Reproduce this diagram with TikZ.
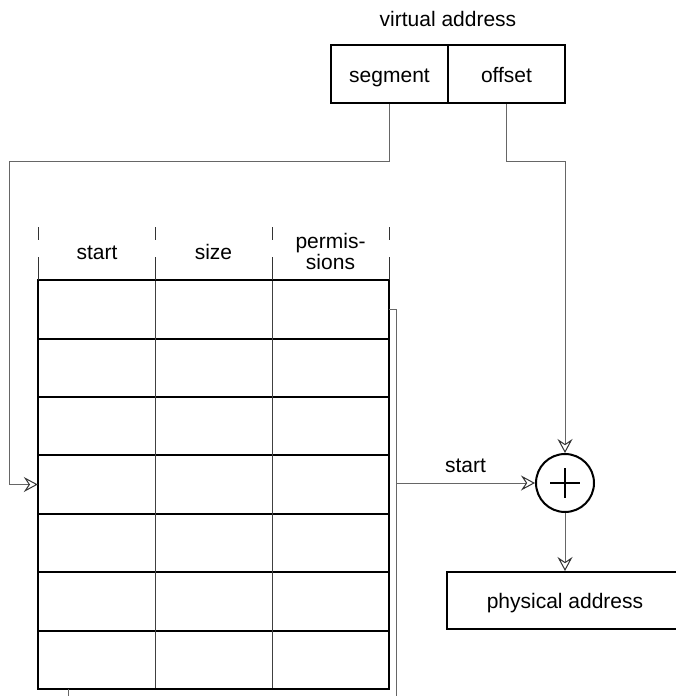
\documentclass[tikz,border=0pt]{standalone}
\usepackage{fontspec}
\setmainfont{Liberation Sans}
\usetikzlibrary{arrows.meta,calc}
\begin{document}
\begin{tikzpicture}[x=1pt,y=-1pt,
  font=\fontsize{21}{24}\selectfont,
  txt/.style={text height=17pt,text depth=1pt,inner sep=0pt},
  box/.style={draw=black,line width=2pt,minimum width=117pt,minimum height=58pt,txt},
  cell/.style={minimum width=117pt,minimum height=58.43pt,inner sep=0pt},
  conn/.style={draw=black!60,line width=1pt},
  arr/.style={conn,-{Stealth[open,length=14pt,width=15pt,inset=5pt,line width=1pt,black!80]}},
  rowline/.style={line width=2pt,black},
  colline/.style={line width=1.3pt,black!75},
  tick/.style={line width=1pt,black!80}]
\useasboundingbox (0,0) rectangle (675,696);
% virtual address
\node[txt] (va) at (448,18) {virtual address};
\node[box] (seg) at (389.5,74) {segment};
\node[box] (off) at (506.5,74) {offset};
% table
\foreach \r in {1,...,7}{
  \foreach \c in {1,2,3}{
    \node[cell] (r\r c\c) at ({38+117*(\c-0.5)},{280+58.43*(\r-0.5)}) {};
  }
}
\foreach \r in {1,...,6}{
  \draw[rowline] (r\r c1.south west) -- (r\r c3.south east);
}
\draw[colline] (r1c1.north east) -- (r7c1.south east);
\draw[colline] (r1c2.north east) -- (r7c2.south east);
\draw[rowline] (r1c1.north west) rectangle (r7c3.south east);
% header
\node[txt] (hstart) at (97,251) {start};
\node[txt] (hsize) at (213.5,251) {size};
\node[align=center,font=\fontsize{21}{21}\selectfont,inner sep=0pt] (hperm) at (330.5,251) {permis-\\sions};
\foreach \x in {38,155,272,389}{
  \draw[tick] (\x,227) -- (\x,240);
  \draw[tick] (\x,257) -- (\x,280);
}
% right bracket line and bottom tick
\coordinate (bt) at (396,309);
\coordinate (bb) at (396,700);
\draw[conn] (r1c3.north east |- bt) -- (bt) -- (bb);
\coordinate (lt1) at (68,689);
\coordinate (lt2) at (68,700);
\draw[conn] (lt1) -- (lt2);
% adder
\node[draw=black,line width=2pt,circle,minimum size=58pt,inner sep=0pt] (plus) at (565,483) {};
\draw[line width=2pt] ($(plus.center)+(-15,0)$) -- ($(plus.center)+(15,0)$);
\draw[line width=2pt] ($(plus.center)+(0,-15)$) -- ($(plus.center)+(0,15)$);
% physical address
\node[box,minimum width=236pt,minimum height=57pt] (pa) at (565,600.5) {physical address};
% connectors
\coordinate (segl) at (9,161);
\draw[arr] (seg.south) |- (segl) |- (r4c1.west);
\coordinate (offr) at (565,161);
\draw[arr] (off.south) |- (offr) -- (plus.north);
\coordinate (sr) at (396,483);
\draw[arr] (sr) -- node[txt,above=9pt,black] (slab) {start} (plus.west);
\draw[arr] (plus.south) -- (pa.north);
\end{tikzpicture}
\end{document}
